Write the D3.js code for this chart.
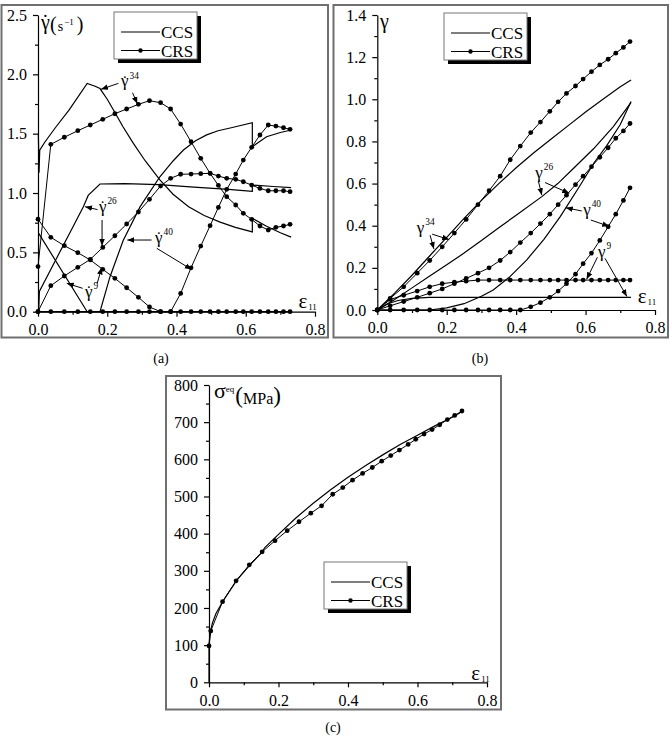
<!DOCTYPE html>
<meta charset="utf-8">
<style>
body { margin: 0; background: #fff; }
svg text { font-family: 'Liberation Serif', 'Times New Roman', Times, serif; fill: #000; }
</style>
<script src="https://d3js.org/d3.v7.min.js"></script>
<div id="chart"></div>
<script>

// strain steps shared by the CRS runs (a) and (b)
var crsStrain = [0, 0.037, 0.076, 0.115, 0.151, 0.187, 0.222, 0.256, 0.290, 0.322, 0.354, 0.383, 0.412,
                 0.442, 0.470, 0.497, 0.521, 0.545, 0.571, 0.593, 0.617, 0.641, 0.665, 0.687, 0.709, 0.728];

// (a) slip rates, CRS
var crsRate34 = [0.38, 1.41, 1.47, 1.525, 1.573, 1.621, 1.668, 1.708, 1.747, 1.778, 1.761, 1.708, 1.581,
                 1.432, 1.292, 1.166, 1.064, 0.969, 0.899, 0.829, 0.778, 0.722, 0.688, 0.711, 0.722, 0.736];
var crsRate26 = [0, 0.219, 0.301, 0.374, 0.441, 0.542, 0.640, 0.739, 0.840, 0.947, 1.059, 1.124, 1.158,
                 1.160, 1.163, 1.166, 1.143, 1.124, 1.115, 1.095, 1.067, 1.039, 1.019, 1.019, 1.019, 1.011];
var crsRate9  = [0.78, 0.627, 0.556, 0.497, 0.436, 0.357, 0.281, 0.202, 0.121, 0.040, 0, 0, 0,
                 0, 0, 0, 0, 0, 0, 0, 0, 0, 0, 0, 0, 0];
var crsRate40 = [0, 0, 0, 0, 0, 0, 0, 0, 0, 0, 0, 0, 0.154,
                 0.37, 0.553, 0.725, 0.879, 1.031, 1.160, 1.278, 1.385, 1.489, 1.573, 1.564, 1.550, 1.537];

// (a) slip rates, CCS  [strain, rate]
var ccsRate34 = [[0.001,1.50],[0.003,1.17],[0.005,1.36],[0.02,1.43],[0.05,1.55],[0.09,1.70],[0.142,1.924],
                 [0.165,1.90],[0.179,1.88],[0.20,1.79],[0.218,1.70],[0.245,1.56],[0.275,1.42],[0.31,1.27],
                 [0.352,1.11],[0.39,0.99],[0.435,0.885],[0.48,0.81],[0.526,0.755],[0.57,0.71],[0.619,0.672],
                 [0.619,0.787],[0.66,0.72],[0.70,0.665],[0.731,0.628]];
var ccsRate26 = [[0.002,0],[0.004,0.17],[0.05,0.43],[0.10,0.71],[0.131,0.885],[0.145,0.98],[0.179,1.076],
                 [0.25,1.08],[0.35,1.07],[0.45,1.05],[0.55,1.03],[0.619,1.015],[0.619,1.067],[0.68,1.055],[0.731,1.045]];
var ccsRate9  = [[0.002,0.66],[0.142,0],[0.731,0]];
var ccsRate40 = [[0,0],[0.179,0],[0.208,0.295],[0.246,0.60],[0.295,0.885],[0.352,1.137],[0.39,1.27],
                 [0.42,1.362],[0.455,1.44],[0.487,1.49],[0.52,1.525],[0.555,1.548],[0.619,1.592],
                 [0.619,1.39],[0.66,1.474],[0.70,1.51],[0.731,1.531]];

// (b) accumulated slips, CRS
var crsSlip34 = [0, 0.055, 0.11, 0.175, 0.235, 0.30, 0.365, 0.43, 0.50, 0.566, 0.635, 0.713, 0.778,
                 0.842, 0.892, 0.943, 0.988, 1.028, 1.063, 1.096, 1.131, 1.163, 1.19, 1.219, 1.246, 1.274];
var crsSlip26 = [0, 0.02, 0.04, 0.06, 0.08, 0.10, 0.125, 0.15, 0.175, 0.20, 0.235, 0.275, 0.32,
                 0.365, 0.41, 0.455, 0.50, 0.545, 0.595, 0.635, 0.68, 0.725, 0.77, 0.815, 0.85, 0.885];
var crsSlip9  = [0, 0.05, 0.07, 0.09, 0.11, 0.125, 0.132, 0.137, 0.142, 0.142, 0.142, 0.142, 0.142,
                 0.142, 0.142, 0.142, 0.142, 0.142, 0.142, 0.142, 0.142, 0.142, 0.142, 0.142, 0.142, 0.142];
var crsSlip40 = [0, 0, 0, 0, 0, 0, 0, 0, 0, 0, 0, 0, 0,
                 0.015, 0.035, 0.06, 0.09, 0.125, 0.17, 0.22, 0.27, 0.33, 0.395, 0.455, 0.52, 0.58];

// (b) accumulated slips, CCS
var ccsSlip34 = [[0,0],[0.05,0.08],[0.1,0.165],[0.15,0.255],[0.2,0.345],[0.25,0.435],[0.3,0.52],[0.35,0.6],
                 [0.4,0.675],[0.45,0.745],[0.5,0.81],[0.55,0.875],[0.6,0.94],[0.65,1.0],[0.7,1.06],[0.731,1.092]];
var ccsSlip26 = [[0,0],[0.05,0.05],[0.1,0.105],[0.15,0.16],[0.2,0.215],[0.25,0.27],[0.3,0.33],[0.35,0.39],
                 [0.4,0.45],[0.474,0.538],[0.52,0.60],[0.57,0.68],[0.623,0.765],[0.68,0.87],[0.731,0.985]];
var ccsSlip40 = [[0,0],[0.15,0],[0.2,0.01],[0.25,0.03],[0.3,0.065],[0.334,0.095],[0.38,0.155],[0.43,0.237],
                 [0.48,0.335],[0.527,0.443],[0.58,0.58],[0.625,0.70],[0.661,0.78],[0.7,0.88],[0.731,0.99]];
var ccsSlip9  = [[0,0],[0.03,0.03],[0.06,0.045],[0.1,0.055],[0.15,0.06],[0.731,0.06]];

// (c) equivalent stress
var crsStressStrain = [0, 0.005, 0.039, 0.078, 0.116, 0.153, 0.190, 0.225, 0.259, 0.293, 0.324, 0.356, 0.385, 0.413,
                       0.442, 0.470, 0.497, 0.523, 0.548, 0.573, 0.595, 0.619, 0.642, 0.664, 0.686, 0.707, 0.728];
var crsStress = [98, 138, 217, 273, 316, 351, 381, 408, 432, 455, 475, 506, 524, 544,
                 562, 578, 595, 610, 625, 640, 654, 668, 680, 693, 707, 718, 730];
var ccsStress = [[0,0],[0,100],[0.003,132],[0.01,160],[0.02,185],[0.04,218],[0.08,275],[0.12,318],[0.153,350],
                 [0.16,362],[0.2,398],[0.25,442],[0.3,482],[0.35,518],[0.4,552],[0.45,583],[0.5,612],[0.55,640],
                 [0.6,665],[0.65,690],[0.7,713],[0.731,730]];

// tick values
var strainTicks = [0, 0.2, 0.4, 0.6, 0.8];
var rateTicks = [0, 0.5, 1.0, 1.5, 2.0, 2.5];
var slipTicks = [0, 0.2, 0.4, 0.6, 0.8, 1.0, 1.2, 1.4];
var stressTicks = [0, 100, 200, 300, 400, 500, 600, 700, 800];
var legendNames = ["CCS", "CRS"];

var svg = d3.select("#chart").append("svg")
    .attr("width", 670)
    .attr("height", 741);

svg.append("defs").append("marker")
    .attr("id", "head")
    .attr("viewBox", "0 0 10 10")
    .attr("refX", 10).attr("refY", 5)
    .attr("markerWidth", 7).attr("markerHeight", 7)
    .attr("markerUnits", "userSpaceOnUse")
    .attr("orient", "auto")
  .append("path")
    .attr("d", "M0,1 L10,5 L0,9 Z")
    .attr("fill", "#000");

function zip(xs, ys) { return xs.map(function (v, i) { return [v, ys[i]]; }); }

function minorVals(ticks) {
    var out = [];
    for (var i = 0; i < ticks.length - 1; i++) out.push((ticks[i] + ticks[i + 1]) / 2);
    return out;
}

function makePanel(o) {
    var g = svg.append("g");
    g.append("rect")
        .attr("x", o.frame[0]).attr("y", o.frame[1])
        .attr("width", o.frame[2] - o.frame[0]).attr("height", o.frame[3] - o.frame[1])
        .attr("fill", "none").attr("stroke", "#6f6f6f").attr("stroke-width", 2);

    var x = d3.scaleLinear().domain([0, 0.8]).range(o.xr);
    var y = d3.scaleLinear().domain([0, o.ytop]).range(o.yr);

    var xa = g.append("g").attr("transform", "translate(0," + o.yr[0] + ")");
    xa.call(d3.axisBottom(x).tickValues(strainTicks).tickSize(5).tickSizeOuter(0).tickPadding(7)
        .tickFormat(d3.format(".1f")));
    xa.append("g").call(d3.axisBottom(x).tickValues(minorVals(strainTicks)).tickSize(3).tickFormat(""))
        .select(".domain").remove();

    var ya = g.append("g").attr("transform", "translate(" + o.xr[0] + ",0)");
    ya.call(d3.axisLeft(y).tickValues(o.yticks).tickSize(5).tickSizeOuter(0).tickPadding(6)
        .tickFormat(o.yfmt));
    ya.append("g").call(d3.axisLeft(y).tickValues(minorVals(o.yticks)).tickSize(3).tickFormat(""))
        .select(".domain").remove();

    g.selectAll(".tick text").style("font-family", "'Liberation Serif', serif").style("font-size", "16px");
    g.selectAll(".domain, .tick line").attr("stroke", "#000").attr("stroke-width", 1.2);

    return { g: g, x: x, y: y };
}

function drawCCS(p, pts) {
    p.g.append("path").datum(pts)
        .attr("fill", "none").attr("stroke", "#000").attr("stroke-width", 1.2)
        .attr("d", d3.line().x(function (d) { return p.x(d[0]); }).y(function (d) { return p.y(d[1]); }));
}

function drawCRS(p, pts) {
    p.g.append("path").datum(pts)
        .attr("fill", "none").attr("stroke", "#000").attr("stroke-width", 1)
        .attr("d", d3.line().x(function (d) { return p.x(d[0]); }).y(function (d) { return p.y(d[1]); }));
    p.g.append("g").selectAll("circle").data(pts).enter().append("circle")
        .attr("cx", function (d) { return p.x(d[0]); })
        .attr("cy", function (d) { return p.y(d[1]); })
        .attr("r", 2.4).attr("fill", "#000");
}

function legend(bx, by) {
    var w = 83, h = 47;
    var g = svg.append("g");
    g.append("rect").attr("x", bx + 4).attr("y", by + 4).attr("width", w).attr("height", h).attr("fill", "#000");
    g.append("rect").attr("x", bx).attr("y", by).attr("width", w).attr("height", h)
        .attr("fill", "#fff").attr("stroke", "#777").attr("stroke-width", 1);
    legendNames.forEach(function (name, i) {
        var ly = by + 20 + i * 18.5;
        g.append("line").attr("x1", bx + 7).attr("x2", bx + 46).attr("y1", ly).attr("y2", ly)
            .attr("stroke", "#000").attr("stroke-width", i ? 1 : 1.2);
        if (i) g.append("circle").attr("cx", bx + 26.5).attr("cy", ly).attr("r", 2.2).attr("fill", "#000");
        g.append("text").attr("x", bx + 47).attr("y", ly + 6).style("font-size", "17px").text(name);
    });
}

// gamma symbol with optional dot and superscript
function gamma(g, px, py, size, dot, sup) {
    g.append("text").attr("x", px).attr("y", py).style("font-size", size + "px").text("γ");
    if (dot) g.append("text").attr("x", px + size * 0.22).attr("y", py + size * 0.02)
        .attr("text-anchor", "middle").style("font-size", size + "px").text("˙");
    if (sup) g.append("text").attr("x", px + size * 0.5).attr("y", py - size * 0.45)
        .style("font-size", (size * 0.55) + "px").text(sup);
}

function arrow(p, a, b) {
    p.g.append("line")
        .attr("x1", p.x(a[0])).attr("y1", p.y(a[1]))
        .attr("x2", p.x(b[0])).attr("y2", p.y(b[1]))
        .attr("stroke", "#000").attr("stroke-width", 1)
        .attr("marker-end", "url(#head)");
}

function strainLabel(p, xv, yv) {
    var t = p.g.append("text").attr("x", p.x(xv)).attr("y", p.y(yv)).style("font-size", "21px");
    t.append("tspan").text("ε");
    t.append("tspan").attr("dy", 2).attr("dx", 1).style("font-size", "9px").text("11");
}

// ---------- (a) ----------
var pa = makePanel({ frame: [1.5, 5, 328, 337.5], xr: [38, 315], yr: [311.7, 15], ytop: 2.5,
                     yticks: rateTicks, yfmt: d3.format(".1f") });
[ccsRate34, ccsRate26, ccsRate9, ccsRate40].forEach(function (s) { drawCCS(pa, s); });
[crsRate9, crsRate40, crsRate26, crsRate34].forEach(function (s) { drawCRS(pa, zip(crsStrain, s)); });

gamma(pa.g, 41, 28.5, 20, true, null);
var ta = pa.g.append("text").attr("x", 50).attr("y", 31);
ta.append("tspan").style("font-size", "20px").text("(");
ta.append("tspan").attr("dx", 1).style("font-size", "14px").text("s");
ta.append("tspan").attr("dy", -6).attr("dx", 1).style("font-size", "9px").text("−1");
ta.append("tspan").attr("dy", 6).attr("dx", 3).style("font-size", "20px").text(")");
strainLabel(pa, 0.752, 0.03);

legend(114, 12);

gamma(pa.g, pa.x(0.240), pa.y(1.90), 17, true, "34");
arrow(pa, [0.232, 1.924], [0.182, 1.874]);
arrow(pa, [0.273, 1.845], [0.287, 1.752]);
gamma(pa.g, pa.x(0.176), pa.y(0.840), 17, true, "26");
arrow(pa, [0.172, 0.86], [0.136, 0.885]);
arrow(pa, [0.185, 0.773], [0.185, 0.555]);
gamma(pa.g, pa.x(0.338), pa.y(0.579), 17, true, "40");
arrow(pa, [0.328, 0.604], [0.258, 0.604]);
arrow(pa, [0.343, 0.534], [0.444, 0.355]);
gamma(pa.g, pa.x(0.136), pa.y(0.124), 17, true, "9");
arrow(pa, [0.129, 0.197], [0.083, 0.239]);
arrow(pa, [0.171, 0.239], [0.184, 0.372]);

svg.append("text").attr("x", 161).attr("y", 363).attr("text-anchor", "middle").style("font-size", "14px").text("(a)");

// ---------- (b) ----------
var pb = makePanel({ frame: [333.5, 5, 668, 337.5], xr: [377.3, 655], yr: [310, 15], ytop: 1.4,
                     yticks: slipTicks, yfmt: d3.format(".1f") });
[ccsSlip34, ccsSlip26, ccsSlip40, ccsSlip9].forEach(function (s) { drawCCS(pb, s); });
[crsSlip40, crsSlip9, crsSlip26, crsSlip34].forEach(function (s) { drawCRS(pb, zip(crsStrain, s)); });

gamma(pb.g, 380, 28, 20, false, null);
strainLabel(pb, 0.75, 0.035);
legend(444, 13);

gamma(pb.g, pb.x(0.114), pb.y(0.365), 17, false, "34");
arrow(pb, [0.152, 0.355], [0.163, 0.290]);
arrow(pb, [0.158, 0.36], [0.207, 0.334]);
gamma(pb.g, pb.x(0.455), pb.y(0.626), 17, false, "26");
arrow(pb, [0.464, 0.612], [0.474, 0.545]);
arrow(pb, [0.483, 0.605], [0.553, 0.554]);
gamma(pb.g, pb.x(0.593), pb.y(0.451), 17, false, "40");
arrow(pb, [0.589, 0.47], [0.543, 0.485]);
arrow(pb, [0.615, 0.427], [0.668, 0.397]);
gamma(pb.g, pb.x(0.636), pb.y(0.252), 17, false, "9");
arrow(pb, [0.634, 0.25], [0.603, 0.146]);
arrow(pb, [0.656, 0.245], [0.719, 0.064]);

svg.append("text").attr("x", 480).attr("y", 363).attr("text-anchor", "middle").style("font-size", "14px").text("(b)");

// ---------- (c) ----------
var pc = makePanel({ frame: [166, 376, 501, 709.5], xr: [209, 487], yr: [682.3, 385], ytop: 800,
                     yticks: stressTicks, yfmt: d3.format("d") });
drawCCS(pc, ccsStress);
drawCRS(pc, zip(crsStressStrain, crsStress));

var tc = pc.g.append("text").attr("x", 214).attr("y", 398);
tc.append("tspan").style("font-size", "22px").text("σ");
tc.append("tspan").attr("dy", -6).style("font-size", "9px").text("eq");
tc.append("tspan").attr("dy", 11).attr("dx", 1).style("font-size", "23px").text("(");
tc.append("tspan").attr("dy", 1).style("font-size", "16px").text("MPa");
tc.append("tspan").attr("dy", -1).style("font-size", "23px").text(")");
strainLabel(pc, 0.755, 7);
legend(324, 562);

svg.append("text").attr("x", 333).attr("y", 732).attr("text-anchor", "middle").style("font-size", "14px").text("(c)");

</script>
